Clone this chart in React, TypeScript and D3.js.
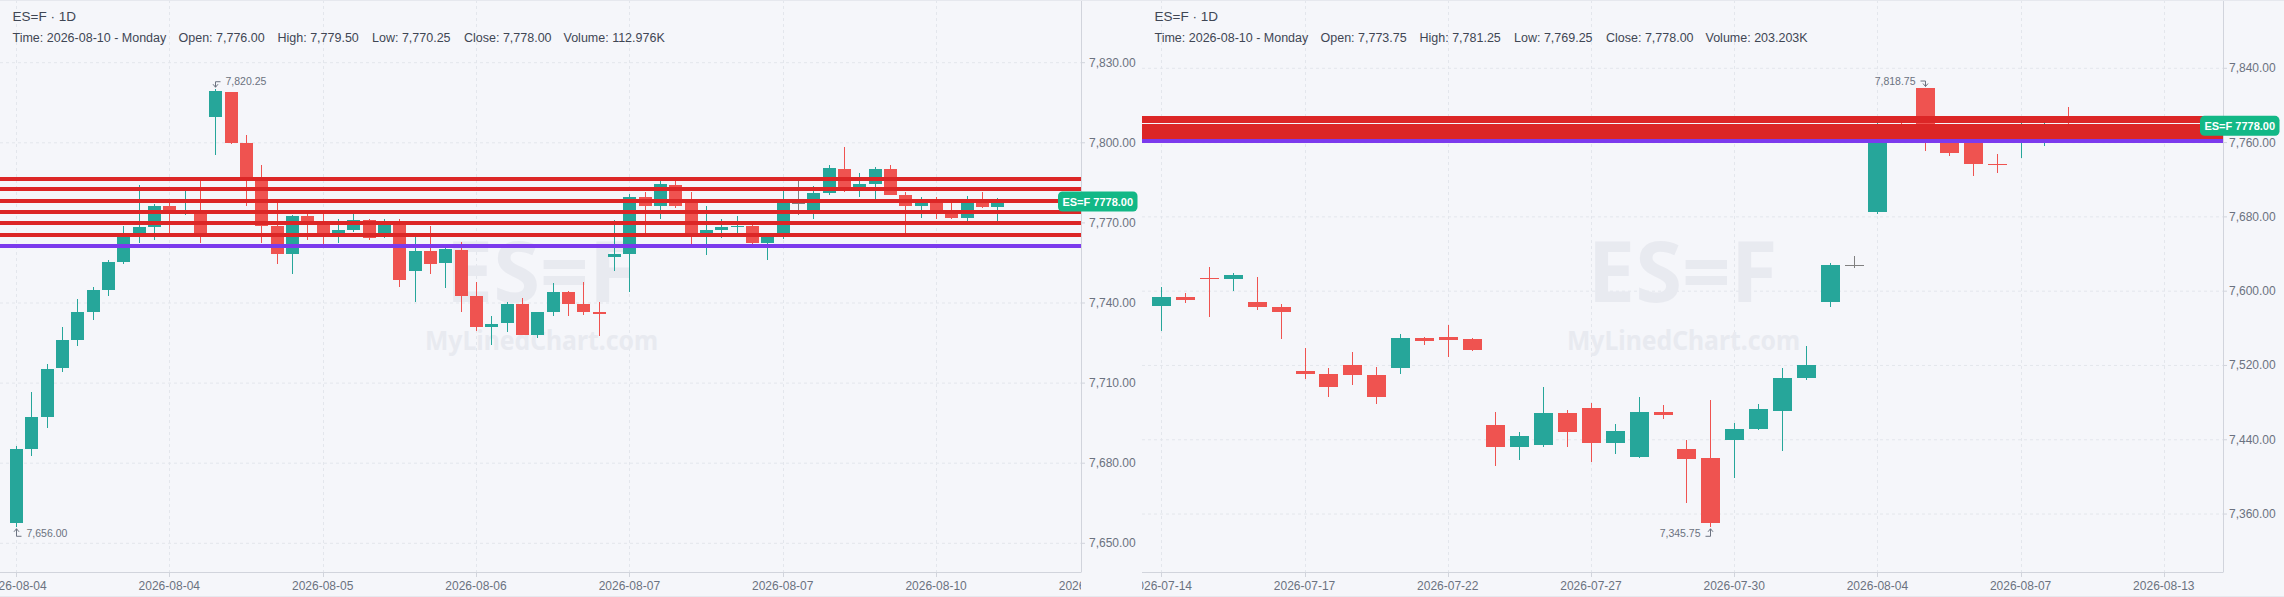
import React from 'react';
import * as d3 from 'd3';

// ---------------- data ----------------
const symbol = 'ES=F';
const interval = '1D';
const lastPrice = 7778.0;

const leftOpen = [
  7657.5, 7685.5, 7697.25, 7715.5, 7726.0, 7736.5, 7745.0, 7755.25, 7766.0, 7768.5,
  7776.25, 7774.5, 7775.0, 7809.75, 7819.0, 7800.0, 7786.75, 7769.0, 7758.25, 7772.5,
  7770.25, 7766.0, 7767.25, 7771.0, 7766.0, 7770.25, 7752.0, 7759.5, 7755.0, 7760.0,
  7742.5, 7731.0, 7732.5, 7739.5, 7728.0, 7736.5, 7744.0, 7739.5, 7736.5, 7757.25,
  7758.5, 7779.75, 7776.5, 7784.25, 7779.0, 7766.25, 7767.5, 7768.5, 7769.0, 7762.5,
  7766.0, 7777.5, 7774.75, 7781.25, 7790.25, 7783.25, 7784.75, 7790.25, 7780.5, 7776.5,
  7778.25, 7773.75, 7772.0, 7777.5, 7776.0,
];
const leftHigh = [
  7686.5, 7706.5, 7717.0, 7731.0, 7741.5, 7746.0, 7756.0, 7768.75, 7784.25, 7777.0,
  7777.5, 7782.0, 7786.0, 7820.25, 7819.0, 7803.0, 7791.75, 7777.5, 7773.0, 7773.25,
  7773.5, 7771.5, 7773.5, 7771.5, 7771.5, 7771.5, 7764.75, 7769.0, 7761.0, 7762.75,
  7748.0, 7735.0, 7740.5, 7742.0, 7736.75, 7747.5, 7744.5, 7748.0, 7740.5, 7771.0,
  7781.0, 7781.75, 7785.75, 7786.0, 7781.5, 7776.25, 7771.5, 7772.5, 7769.5, 7766.0,
  7782.0, 7785.75, 7783.75, 7791.75, 7798.25, 7788.5, 7790.75, 7791.5, 7781.75, 7779.75,
  7779.75, 7777.5, 7780.0, 7781.5, 7779.5,
];
const leftLow = [
  7656.0, 7682.75, 7693.0, 7714.25, 7724.0, 7733.5, 7742.5, 7754.5, 7762.5, 7763.5,
  7766.0, 7773.0, 7762.5, 7795.5, 7799.5, 7776.5, 7762.5, 7754.75, 7751.0, 7763.5,
  7762.0, 7762.5, 7766.75, 7763.5, 7764.25, 7746.0, 7740.5, 7751.0, 7745.75, 7736.5,
  7729.5, 7724.25, 7729.0, 7728.0, 7727.0, 7735.0, 7735.0, 7735.5, 7727.5, 7752.0,
  7744.0, 7766.0, 7771.5, 7775.75, 7762.25, 7758.0, 7764.25, 7766.25, 7762.25, 7756.0,
  7764.0, 7773.0, 7771.5, 7780.5, 7781.75, 7779.75, 7779.0, 7780.5, 7766.0, 7771.75,
  7771.5, 7771.5, 7770.75, 7775.5, 7770.25,
];
const leftClose = [
  7685.5, 7697.25, 7715.25, 7726.0, 7736.5, 7745.0, 7755.25, 7764.75, 7768.5, 7776.25,
  7774.75, 7775.0, 7766.0, 7819.5, 7800.0, 7786.75, 7769.0, 7758.5, 7772.5, 7770.25,
  7765.75, 7767.25, 7771.0, 7764.5, 7770.25, 7748.5, 7759.5, 7754.75, 7760.25, 7742.75,
  7731.0, 7732.0, 7739.5, 7728.0, 7736.5, 7744.0, 7739.75, 7736.75, 7736.0, 7758.5,
  7779.75, 7776.5, 7784.5, 7776.25, 7766.25, 7767.25, 7768.5, 7769.0, 7762.5, 7764.75,
  7777.5, 7777.5, 7781.25, 7790.5, 7783.25, 7784.5, 7790.25, 7780.5, 7776.5, 7777.5,
  7774.75, 7772.0, 7777.5, 7776.0, 7778.0,
];
const leftTickLabels = [
  '2026-08-04', '2026-08-04', '2026-08-05', '2026-08-06',
  '2026-08-07', '2026-08-07', '2026-08-10', '2026-08-10',
];
const leftYTicks = [7650, 7680, 7710, 7740, 7770, 7800, 7830];
const leftInfo = [
  'Time: 2026-08-10 - Monday', 'Open: 7,776.00', 'High: 7,779.50',
  'Low: 7,770.25', 'Close: 7,778.00', 'Volume: 112.976K',
];

const rightOpen = [
  7584.0, 7593.75, 7614.25, 7613.0, 7588.5, 7583.0, 7514.0, 7510.75, 7520.5, 7509.75,
  7517.25, 7549.5, 7550.75, 7548.5, 7456.0, 7432.25, 7434.5, 7468.75, 7474.25, 7436.5,
  7421.5, 7470.25, 7430.0, 7420.5, 7439.75, 7451.5, 7471.25, 7506.5, 7588.75, 7628.0,
  7685.5, 7780.0, 7818.75, 7770.0, 7766.0, 7737.0, 7760.0, 7770.0, 7780.0,
];
const rightHigh = [
  7604.5, 7598.0, 7626.0, 7619.5, 7615.25, 7586.25, 7538.75, 7517.25, 7534.5, 7518.5,
  7554.0, 7550.75, 7563.5, 7549.5, 7470.0, 7448.5, 7496.75, 7472.0, 7479.5, 7457.0,
  7486.0, 7477.5, 7439.75, 7482.75, 7458.0, 7478.5, 7517.25, 7541.0, 7630.25, 7638.0,
  7786.0, 7787.0, 7818.75, 7780.0, 7778.0, 7747.75, 7786.0, 7784.0, 7798.25,
];
const rightLow = [
  7557.5, 7587.25, 7572.25, 7600.25, 7579.75, 7548.5, 7505.5, 7486.0, 7499.0, 7478.5,
  7510.75, 7542.0, 7529.0, 7535.5, 7411.75, 7418.25, 7432.25, 7432.25, 7416.0, 7424.75,
  7420.5, 7462.75, 7372.25, 7345.75, 7399.25, 7450.5, 7428.25, 7504.25, 7583.25, 7625.0,
  7683.5, 7762.0, 7751.25, 7746.0, 7724.5, 7727.5, 7743.75, 7756.25, 7766.0,
];
const rightClose = [
  7593.75, 7590.75, 7613.0, 7617.5, 7583.0, 7577.5, 7510.75, 7496.75, 7509.75, 7486.0,
  7549.5, 7546.25, 7547.5, 7536.75, 7432.25, 7444.0, 7468.75, 7448.5, 7436.5, 7449.5,
  7470.0, 7467.0, 7419.5, 7350.5, 7451.5, 7473.0, 7506.5, 7520.5, 7628.0, 7628.0,
  7778.0, 7770.0, 7772.0, 7749.0, 7737.25, 7736.5, 7775.0, 7778.0, 7772.0,
];
const rightTickLabels = [
  '2026-07-14', '2026-07-17', '2026-07-22', '2026-07-27',
  '2026-07-30', '2026-08-04', '2026-08-07', '2026-08-13',
];
const rightYTicks = [7360, 7440, 7520, 7600, 7680, 7760, 7840];
const rightInfo = [
  'Time: 2026-08-10 - Monday', 'Open: 7,773.75', 'High: 7,781.25',
  'Low: 7,769.25', 'Close: 7,778.00', 'Volume: 203.203K',
];

const levelRed = [7786.5, 7782.75, 7778.25, 7774.0, 7770.0, 7765.5];
const levelPurple = [7761.25];

// ---------------- style / layout ----------------
const W = 2284;
const H = 597;
const BG = '#f5f6fa';
const UP = '#26a69a';
const DOWN = '#ef5350';
const DOJI = '#808080';
const RED_LINE = '#dc2626';
const PURPLE_LINE = '#7c3aed';
const GRID = '#e3e6ec';
const AXIS = '#d1d4dc';
const TXT = '#6b7280';
const TITLE = '#3f4654';
const WM = '#e8eaf0';
const FONT = '"Liberation Sans", Arial, Helvetica, sans-serif';
const INFO_X = [12.5, 178.5, 277.5, 372, 464, 563.5];

type Panel = {
  x0: number;
  plotW: number;
  plotH: number;
  idxDomain: [number, number];
  priceDomain: [number, number];
  open: number[];
  high: number[];
  low: number[];
  close: number[];
  tickLabels: string[];
  tickEvery: number;
  yTicks: number[];
  info: string[];
  bodyRatio: number;
  labelGap: number;
  levelWidth: number;
};

const panels: Panel[] = [
  {
    x0: 0, plotW: 1081, plotH: 572,
    idxDomain: [-1.04, 69.45], priceDomain: [7639.25, 7853.48],
    open: leftOpen, high: leftHigh, low: leftLow, close: leftClose,
    tickLabels: leftTickLabels, tickEvery: 10, yTicks: leftYTicks, info: leftInfo,
    bodyRatio: 0.85, labelGap: 8, levelWidth: 3.5,
  },
  {
    x0: 1142, plotW: 1081, plotH: 572,
    idxDomain: [-0.81, 44.48], priceDomain: [7297.6, 7913.54],
    open: rightOpen, high: rightHigh, low: rightLow, close: rightClose,
    tickLabels: rightTickLabels, tickEvery: 6, yTicks: rightYTicks, info: rightInfo,
    bodyRatio: 0.8, labelGap: 6, levelWidth: 4,
  },
];

const fmt = d3.format(',.2f');

function ChartPanel({ p, id }: { p: Panel; id: number }) {
  const x = d3.scaleLinear().domain(p.idxDomain).range([p.x0, p.x0 + p.plotW]);
  const y = d3.scaleLinear().domain(p.priceDomain).range([p.plotH, 0]);
  const step = x(1) - x(0);
  const bw = Math.round(step * p.bodyRatio) | 1;
  const right = p.x0 + p.plotW;
  const n = p.open.length;
  const candles = d3.range(n).map((i) => ({
    o: p.open[i], h: p.high[i], l: p.low[i], c: p.close[i],
  }));
  const hiIdx = d3.maxIndex(p.high);
  const loIdx = d3.minIndex(p.low);
  const clipId = `clip-${id}`;
  const ticks = p.tickLabels.map((t, k) => ({ t, xi: x(k * p.tickEvery) }));

  const marker = (idx: number, isHigh: boolean) => {
    const cx = Math.round(x(idx)) + 0.5;
    const price = isHigh ? p.high[idx] : p.low[idx];
    const py = y(price);
    const leftSide = idx > n / 2;
    const dir = leftSide ? -1 : 1;
    const ty = isHigh ? py - 7.5 : py + 5.5;
    const elbowY = isHigh ? py - 7 : py + 9;
    const tipY = isHigh ? py - 1.5 : py + 1.5;
    const path = `M${cx + dir * 5},${elbowY}H${cx}V${tipY}`;
    const ah = isHigh
      ? `M${cx - 2.5},${tipY - 3}L${cx},${tipY}L${cx + 2.5},${tipY - 3}`
      : `M${cx - 2.5},${tipY + 3}L${cx},${tipY}L${cx + 2.5},${tipY + 3}`;
    return (
      <g>
        <path d={path} fill="none" stroke={TXT} strokeWidth={1} />
        <path d={ah} fill="none" stroke={TXT} strokeWidth={1} />
        <text
          x={cx + dir * 10}
          y={ty}
          dominantBaseline="central"
          textAnchor={leftSide ? 'end' : 'start'}
          fontSize={10.5}
          fill={TXT}
          fontFamily={FONT}
        >
          {fmt(price)}
        </text>
      </g>
    );
  };

  const levelY = (v: number) => Math.round(y(v));

  return (
    <g>
      <defs>
        <clipPath id={clipId}>
          <rect x={p.x0} y={0} width={p.plotW} height={H} />
        </clipPath>
      </defs>
      {/* grid */}
      {p.yTicks.map((t) => (
        <line key={'gy' + t} x1={p.x0} x2={right} y1={y(t)} y2={y(t)}
          stroke={GRID} strokeDasharray="3 3" />
      ))}
      <g clipPath={`url(#${clipId})`}>
        {ticks.map((t, k) => (
          <line key={'gx' + k} x1={Math.round(t.xi) + 0.5} x2={Math.round(t.xi) + 0.5}
            y1={0} y2={p.plotH} stroke={GRID} strokeDasharray="3 3" />
        ))}
      </g>
      {/* watermark */}
      <text x={p.x0 + p.plotW / 2} y={301.7} textAnchor="middle" fontSize={84}
        fontWeight={700} fill={WM} fontFamily='"Noto Sans", "Open Sans", sans-serif'
        textLength={190} lengthAdjust="spacingAndGlyphs">
        {symbol}
      </text>
      <text x={p.x0 + p.plotW / 2 + 1} y={350} textAnchor="middle" fontSize={27}
        fontWeight={700} fill={WM} fontFamily='"Noto Sans", "Open Sans", sans-serif'
        textLength={233} lengthAdjust="spacingAndGlyphs">
        MyLinedChart.com
      </text>
      {/* title */}
      <text x={p.x0 + 12.5} y={20.5} fontSize={13.5} fill={TITLE} fontFamily={FONT}>
        {`${symbol} · ${interval}`}
      </text>
      {p.info.map((s, k) => (
        <text key={'info' + k} x={p.x0 + INFO_X[k]} y={41.5} fontSize={12.5}
          fill={TITLE} fontFamily={FONT}>
          {s}
        </text>
      ))}
      {/* candles */}
      <g clipPath={`url(#${clipId})`} shapeRendering="crispEdges">
        {candles.map((d, i) => {
          const cx = Math.round(x(i));
          const color = d.c > d.o ? UP : d.c < d.o ? DOWN : DOJI;
          const top = y(Math.max(d.o, d.c));
          const bot = y(Math.min(d.o, d.c));
          return (
            <g key={i}>
              <rect x={cx} y={y(d.h)} width={1} height={Math.max(1, y(d.l) - y(d.h))} fill={color} />
              <rect x={cx - (bw - 1) / 2} y={top} width={bw} height={Math.max(1, bot - top)} fill={color} />
            </g>
          );
        })}
      </g>
      {/* level lines */}
      <g shapeRendering="crispEdges">
        {levelRed.map((v) => (
          <rect key={'lr' + v} x={p.x0} width={p.plotW} y={levelY(v) - p.levelWidth / 2}
            height={p.levelWidth} fill={RED_LINE} />
        ))}
        {levelPurple.map((v) => (
          <rect key={'lp' + v} x={p.x0} width={p.plotW} y={levelY(v) - p.levelWidth / 2}
            height={p.levelWidth} fill={PURPLE_LINE} />
        ))}
      </g>
      {/* hi / lo markers */}
      {marker(hiIdx, true)}
      {marker(loIdx, false)}
      {/* axes */}
      <line x1={p.x0} x2={right} y1={p.plotH + 0.5} y2={p.plotH + 0.5} stroke={AXIS} />
      <line x1={right + 0.5} x2={right + 0.5} y1={0} y2={p.plotH + 0.5} stroke={AXIS} />
      <g clipPath={`url(#${clipId})`}>
        {ticks.map((t, k) => (
          <g key={'xt' + k}>
            <line x1={Math.round(t.xi) + 0.5} x2={Math.round(t.xi) + 0.5}
              y1={p.plotH} y2={p.plotH + 5} stroke={AXIS} />
            <text x={t.xi} y={586} textAnchor="middle" dominantBaseline="central"
              fontSize={12} fill={TXT} fontFamily={FONT}>
              {t.t}
            </text>
          </g>
        ))}
      </g>
      {p.yTicks.map((t) => (
        <g key={'yt' + t}>
          <line x1={right} x2={right + 4} y1={y(t)} y2={y(t)} stroke={AXIS} />
          <text x={right + p.labelGap} y={y(t)} dominantBaseline="central"
            fontSize={12} fill={TXT} fontFamily={FONT}>
            {fmt(t)}
          </text>
        </g>
      ))}
      {/* last price label */}
      <g>
        <rect x={right - 23} y={y(lastPrice) - 10} width={79.5} height={20} rx={4.5}
          fill="#12b886" />
        <text x={right - 23 + 39.75} y={y(lastPrice) + 0.5} textAnchor="middle"
          dominantBaseline="central" fontSize={11} fontWeight={700} fill="#ffffff"
          fontFamily={FONT}>
          {`${symbol} ${lastPrice.toFixed(2)}`}
        </text>
      </g>
    </g>
  );
}

export default function App() {
  return (
    <svg
      width={W}
      height={H}
      viewBox={`0 0 ${W} ${H}`}
      style={{ position: 'absolute', left: 0, top: 0, display: 'block' }}
    >
      <rect x={0} y={0} width={W} height={H} fill={BG} />
      {panels.map((p, k) => (
        <ChartPanel key={k} p={p} id={k} />
      ))}
      <line x1={0} x2={W} y1={0.5} y2={0.5} stroke="#e6e8ee" />
      <line x1={0} x2={W} y1={H - 0.5} y2={H - 0.5} stroke="#e6e8ee" />
    </svg>
  );
}
